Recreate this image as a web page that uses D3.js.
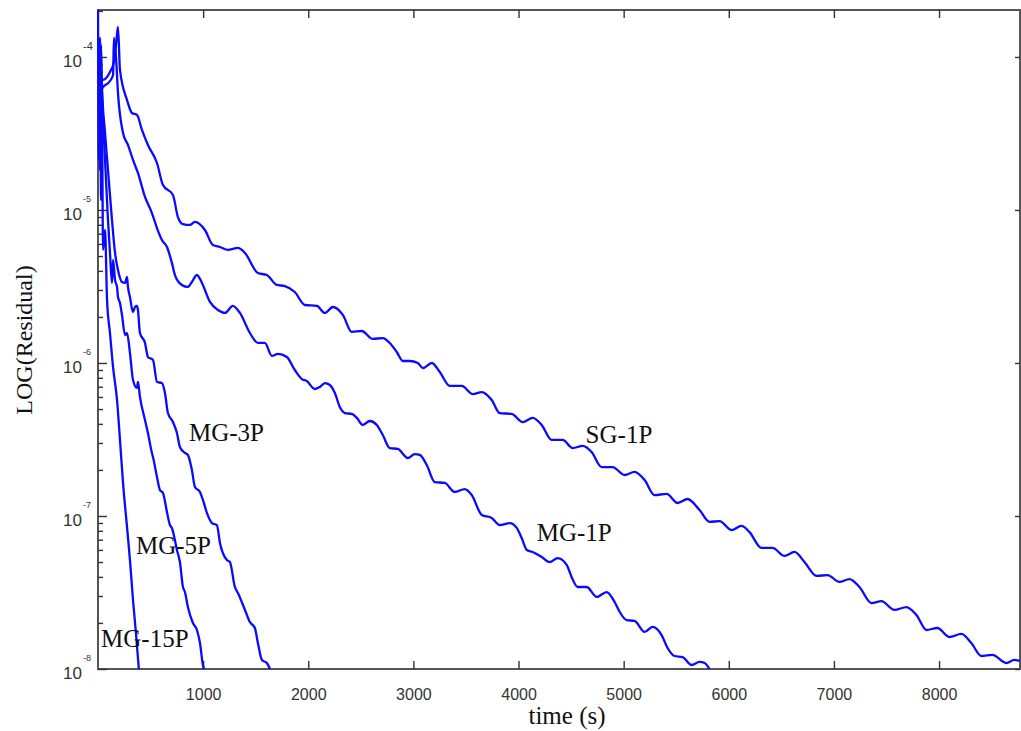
<!DOCTYPE html>
<html>
<head>
<meta charset="utf-8">
<script src="https://cdn.jsdelivr.net/npm/d3@7"></script>
<style>
  body { margin: 0; background: #fff; }
  .tick line { stroke: #333; stroke-width: 1.4; }
  .curve { fill: none; stroke: #0a0aff; stroke-width: 2.3; stroke-linejoin: round; }
</style>
</head>
<body>
<div id="chart"></div>
<script>
// series: [time (s), log10(residual)]
const sg1p = [[0,-4.085],[48,-4.150],[114,-4.098],[152,-4.033],[171,-3.922],[190,-3.804],[209,-4.085],[276,-4.281],[323,-4.366],[371,-4.379],[418,-4.477],[475,-4.575],[561,-4.693],[618,-4.837],[713,-4.902],[760,-5.046],[808,-5.092],[875,-5.098],[922,-5.078],[1017,-5.131],[1093,-5.229],[1160,-5.242],[1236,-5.261],[1331,-5.248],[1398,-5.281],[1521,-5.412],[1606,-5.425],[1701,-5.490],[1777,-5.497],[1872,-5.536],[1968,-5.621],[2082,-5.627],[2158,-5.673],[2234,-5.634],[2329,-5.686],[2414,-5.797],[2509,-5.791],[2614,-5.843],[2709,-5.837],[2775,-5.869],[2842,-5.928],[2899,-5.987],[2966,-5.987],[3042,-6.000],[3089,-6.033],[3175,-6.000],[3251,-6.059],[3346,-6.150],[3460,-6.150],[3564,-6.203],[3650,-6.190],[3745,-6.242],[3821,-6.327],[3935,-6.333],[4040,-6.386],[4135,-6.359],[4220,-6.405],[4315,-6.503],[4420,-6.503],[4515,-6.556],[4610,-6.542],[4695,-6.582],[4790,-6.680],[4895,-6.680],[5009,-6.732],[5104,-6.712],[5199,-6.765],[5294,-6.863],[5409,-6.856],[5513,-6.915],[5608,-6.889],[5722,-6.961],[5817,-7.039],[5912,-7.033],[6026,-7.092],[6121,-7.065],[6197,-7.105],[6311,-7.209],[6416,-7.209],[6530,-7.261],[6625,-7.235],[6720,-7.301],[6834,-7.392],[6939,-7.386],[7053,-7.431],[7148,-7.412],[7243,-7.464],[7357,-7.569],[7452,-7.556],[7575,-7.614],[7690,-7.595],[7785,-7.647],[7880,-7.745],[7984,-7.732],[8098,-7.791],[8212,-7.771],[8307,-7.830],[8402,-7.915],[8507,-7.908],[8640,-7.961],[8716,-7.941],[8773,-7.948]];

const mg1p = [[0,-4.248],[48,-4.196],[114,-4.157],[143,-4.118],[152,-3.876],[171,-4.000],[190,-4.235],[238,-4.497],[285,-4.575],[333,-4.673],[380,-4.758],[447,-4.915],[513,-5.020],[561,-5.118],[608,-5.196],[656,-5.242],[703,-5.346],[732,-5.425],[798,-5.490],[855,-5.503],[893,-5.471],[941,-5.425],[989,-5.477],[1065,-5.601],[1141,-5.654],[1207,-5.673],[1283,-5.627],[1350,-5.673],[1445,-5.804],[1521,-5.869],[1587,-5.869],[1654,-5.954],[1711,-5.941],[1796,-5.961],[1872,-6.046],[1939,-6.105],[1986,-6.118],[2063,-6.170],[2110,-6.157],[2158,-6.131],[2205,-6.144],[2253,-6.196],[2300,-6.288],[2348,-6.327],[2414,-6.333],[2462,-6.359],[2519,-6.405],[2585,-6.379],[2652,-6.405],[2709,-6.471],[2775,-6.556],[2852,-6.562],[2947,-6.621],[3013,-6.595],[3061,-6.601],[3127,-6.667],[3203,-6.778],[3298,-6.784],[3393,-6.843],[3488,-6.824],[3555,-6.863],[3650,-6.993],[3745,-7.013],[3821,-7.059],[3916,-7.046],[3983,-7.078],[4030,-7.144],[4078,-7.222],[4135,-7.235],[4220,-7.268],[4296,-7.301],[4372,-7.275],[4458,-7.320],[4505,-7.399],[4562,-7.464],[4648,-7.464],[4743,-7.529],[4838,-7.497],[4914,-7.562],[4962,-7.627],[5028,-7.680],[5104,-7.686],[5199,-7.758],[5275,-7.725],[5361,-7.778],[5418,-7.863],[5484,-7.915],[5560,-7.922],[5646,-7.974],[5722,-7.954],[5770,-7.961],[5827,-8.013]];

const mg3p = [[10,-4.020],[19,-4.608],[29,-3.922],[38,-4.196],[67,-4.497],[95,-4.739],[133,-5.065],[162,-5.281],[190,-5.392],[228,-5.471],[257,-5.477],[276,-5.438],[285,-5.503],[304,-5.569],[333,-5.667],[352,-5.634],[371,-5.627],[380,-5.654],[399,-5.804],[447,-5.869],[475,-5.961],[523,-5.980],[561,-6.124],[608,-6.131],[637,-6.196],[665,-6.327],[713,-6.386],[751,-6.458],[779,-6.549],[827,-6.588],[855,-6.601],[893,-6.699],[922,-6.810],[970,-6.843],[998,-6.895],[1036,-6.980],[1084,-7.046],[1131,-7.059],[1160,-7.176],[1226,-7.288],[1255,-7.301],[1302,-7.464],[1331,-7.503],[1398,-7.614],[1445,-7.693],[1492,-7.732],[1521,-7.830],[1559,-7.941],[1606,-7.961],[1644,-8.013]];

const mg5p = [[10,-3.889],[19,-4.739],[29,-4.150],[48,-4.412],[67,-4.673],[95,-5.065],[114,-5.281],[133,-5.477],[143,-5.327],[162,-5.458],[181,-5.503],[190,-5.569],[209,-5.608],[228,-5.686],[257,-5.817],[276,-5.804],[304,-5.935],[333,-6.111],[371,-6.163],[380,-6.124],[399,-6.222],[447,-6.373],[475,-6.458],[513,-6.588],[523,-6.614],[561,-6.745],[589,-6.830],[618,-6.850],[656,-6.974],[684,-7.059],[703,-7.078],[751,-7.222],[779,-7.301],[808,-7.464],[827,-7.497],[855,-7.595],[903,-7.699],[941,-7.745],[970,-7.830],[998,-7.974],[1017,-8.013]];

const mg15p = [[0,-3.660],[10,-4.673],[19,-3.876],[29,-4.935],[38,-4.412],[48,-5.261],[67,-5.131],[86,-5.588],[114,-5.804],[143,-6.026],[181,-6.242],[209,-6.503],[238,-6.784],[276,-7.072],[304,-7.288],[333,-7.549],[361,-7.765],[390,-8.013]];

const seriesNames = ["SG-1P", "MG-1P", "MG-3P", "MG-5P", "MG-15P"];
const xTicks = [1000, 2000, 3000, 4000, 5000, 6000, 7000, 8000];
const yDecades = [-4, -5, -6, -7, -8];

// label anchor points in data units [time, log10 residual]
const labelPos = [[4638, -6.523], [4173, -7.163], [865, -6.510], [361, -7.248], [29, -7.856]];

const W = 1021, H = 731;
const margin = { top: 10, right: 1, bottom: 62, left: 98 };

const svg = d3.select("#chart").append("svg")
  .attr("width", W).attr("height", H);

const xScale = d3.scaleLinear()
  .domain([0, 8770])
  .range([margin.left, W - margin.right]);

const yScale = d3.scaleLinear()
  .domain([-8, -3.693])
  .range([H - margin.bottom, margin.top]);

const plotL = margin.left, plotR = W - margin.right;
const plotT = margin.top, plotB = H - margin.bottom;

// minor ticks at log10(k * 10^n)
const minorTicks = [];
yDecades.forEach(n => {
  for (let k = 2; k <= 9; k++) {
    const v = n + Math.log10(k);
    if (v <= yScale.domain()[1]) minorTicks.push(v);
  }
});

// frame
svg.append("rect")
  .attr("x", plotL).attr("y", plotT)
  .attr("width", plotR - plotL).attr("height", plotB - plotT)
  .attr("fill", "none").attr("stroke", "#555").attr("stroke-width", 2);

// axes (ticks inside)
const gx = svg.append("g")
  .attr("transform", `translate(0,${plotB})`)
  .call(d3.axisBottom(xScale).tickValues(xTicks).tickSize(-8).tickPadding(20).tickFormat(d3.format("d")));
gx.select(".domain").remove();
gx.selectAll("text")
  .attr("font-family", "Liberation Sans, Arial, sans-serif")
  .attr("font-size", 16).attr("fill", "#333");

const gxTop = svg.append("g")
  .attr("transform", `translate(0,${plotT})`)
  .call(d3.axisTop(xScale).tickValues(xTicks).tickSize(-8).tickFormat(""));
gxTop.select(".domain").remove();

const gyMinor = svg.append("g")
  .attr("transform", `translate(${plotL},0)`)
  .call(d3.axisLeft(yScale).tickValues(minorTicks).tickSize(-5).tickFormat(""));
gyMinor.select(".domain").remove();

const gy = svg.append("g")
  .attr("transform", `translate(${plotL},0)`)
  .call(d3.axisLeft(yScale).tickValues(yDecades).tickSize(-9).tickFormat(""));
gy.select(".domain").remove();

const gyR = svg.append("g")
  .attr("transform", `translate(${plotR},0)`)
  .call(d3.axisRight(yScale).tickValues(yDecades).tickSize(-5).tickFormat(""));
gyR.select(".domain").remove();

// y tick labels 10^n
const yLab = svg.append("g").selectAll("g")
  .data(yDecades)
  .join("g")
  .attr("transform", d => `translate(${plotL - 16},${yScale(d)})`);
yLab.append("text")
  .attr("text-anchor", "end")
  .attr("y", 10)
  .attr("font-family", "Liberation Sans, Arial, sans-serif")
  .attr("font-size", 17).attr("fill", "#333")
  .text("10");
yLab.append("text")
  .attr("x", 1)
  .attr("y", d => d === -4 ? -7 : -8)
  .attr("font-family", "Liberation Sans, Arial, sans-serif")
  .attr("font-size", d => d === -4 ? 11 : 9).attr("fill", "#333")
  .text(d => String(d));

// axis titles
svg.append("text")
  .attr("x", (plotL + plotR) / 2 + 8).attr("y", 724)
  .attr("text-anchor", "middle")
  .attr("font-family", "Liberation Serif, Times New Roman, serif")
  .attr("font-size", 25).attr("fill", "#111")
  .text("time (s)");

svg.append("text")
  .attr("transform", "translate(32,340) rotate(-90)")
  .attr("text-anchor", "middle")
  .attr("font-family", "Liberation Serif, Times New Roman, serif")
  .attr("font-size", 24).attr("fill", "#111")
  .text("LOG(Residual)");

// curves
svg.append("clipPath").attr("id", "plotclip")
  .append("rect")
  .attr("x", plotL - 1).attr("y", plotT)
  .attr("width", plotR - plotL + 1).attr("height", plotB - plotT);

const lineFunc = d3.line()
  .curve(d3.curveMonotoneX)
  .x(d => xScale(d[0]))
  .y(d => yScale(d[1]));

svg.append("g")
  .attr("clip-path", "url(#plotclip)")
  .selectAll("path.curve")
  .data([sg1p, mg1p, mg3p, mg5p, mg15p])
  .join("path")
  .attr("class", "curve")
  .attr("d", lineFunc);

// curve labels
svg.append("g").selectAll("text")
  .data(seriesNames)
  .join("text")
  .attr("x", (d, i) => xScale(labelPos[i][0]))
  .attr("y", (d, i) => yScale(labelPos[i][1]))
  .attr("font-family", "Liberation Serif, Times New Roman, serif")
  .attr("font-size", 25).attr("fill", "#111")
  .text(d => d);
</script>
</body>
</html>
